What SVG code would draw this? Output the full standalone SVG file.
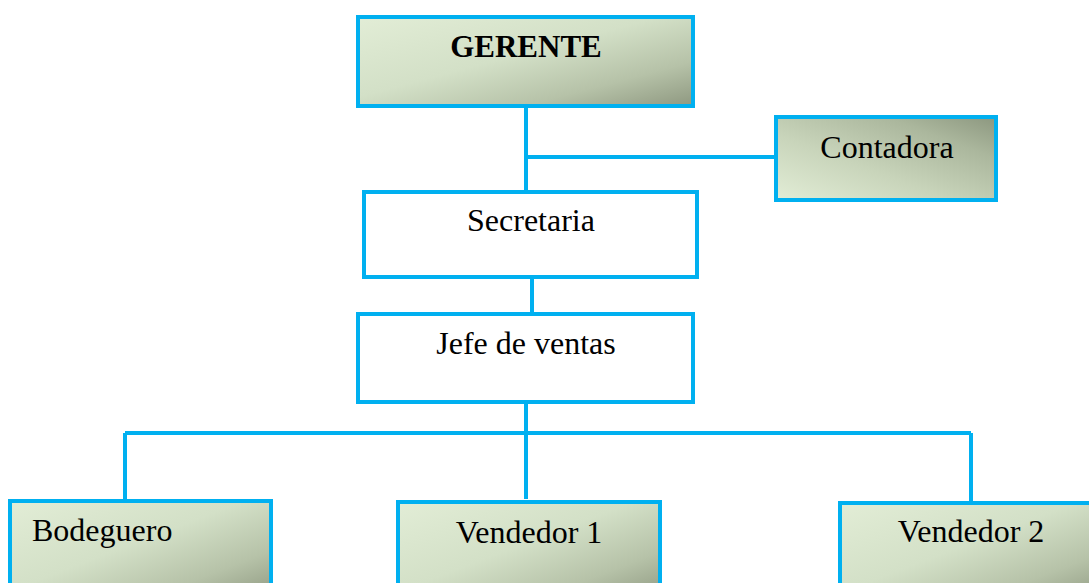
<svg xmlns="http://www.w3.org/2000/svg" width="1089" height="583" viewBox="0 0 1089 583">
<style>
.box{stroke:#00b0f0;stroke-width:4}
.plain{fill:#ffffff}
.g1{fill:url(#grad)}
.g2{fill:url(#grad2)}
.t{font-family:"Liberation Serif","Times New Roman",serif;font-size:32px;fill:#000}
.b{font-weight:bold;font-size:31px}
.c{stroke:#00b0f0;stroke-width:4;fill:none}
</style>
<defs>
<linearGradient id="grad" x1="0" y1="0" x2="1" y2="1">
<stop offset="0" stop-color="#e2edd6"/>
<stop offset="0.45" stop-color="#d3e0c7"/>
<stop offset="0.75" stop-color="#b6c2a8"/>
<stop offset="1" stop-color="#8e9880"/>
</linearGradient>
<linearGradient id="grad2" x1="0" y1="1" x2="1" y2="0">
<stop offset="0" stop-color="#e2edd6"/>
<stop offset="0.4" stop-color="#c8d4ba"/>
<stop offset="0.75" stop-color="#abb79d"/>
<stop offset="1" stop-color="#8c977f"/>
</linearGradient>
</defs>
<g id="connectors">
<path class="c" d="M526 108 V190"/>
<path class="c" d="M526 157 H776"/>
<path class="c" d="M532 279 V314"/>
<path class="c" d="M526 404 V499"/>
<path class="c" d="M125 433 H971"/>
<path class="c" d="M125 433 V499"/>
<path class="c" d="M971 433 V501"/>
</g>
<g id="gerente">
<rect class="box g1" x="358" y="17" width="335" height="89"/>
<text class="t b" x="526" y="57" text-anchor="middle">GERENTE</text>
</g>
<g id="contadora">
<rect class="box g2" x="776" y="117" width="220" height="83"/>
<text class="t" x="887" y="158" text-anchor="middle">Contadora</text>
</g>
<g id="secretaria">
<rect class="box plain" x="364" y="192" width="333" height="85"/>
<text class="t" x="531" y="231" text-anchor="middle">Secretaria</text>
</g>
<g id="jefe">
<rect class="box plain" x="358" y="314" width="335" height="88"/>
<text class="t" x="526" y="354" text-anchor="middle">Jefe de ventas</text>
</g>
<g id="bodeguero">
<rect class="box g1" x="10" y="501" width="261" height="100"/>
<text class="t" x="32" y="541">Bodeguero</text>
</g>
<g id="vendedor1">
<rect class="box g1" x="398" y="502" width="262" height="100"/>
<text class="t" x="529" y="543" text-anchor="middle">Vendedor 1</text>
</g>
<g id="vendedor2">
<rect class="box g1" x="840" y="503" width="262" height="100"/>
<text class="t" x="971" y="542" text-anchor="middle">Vendedor 2</text>
</g>
</svg>
